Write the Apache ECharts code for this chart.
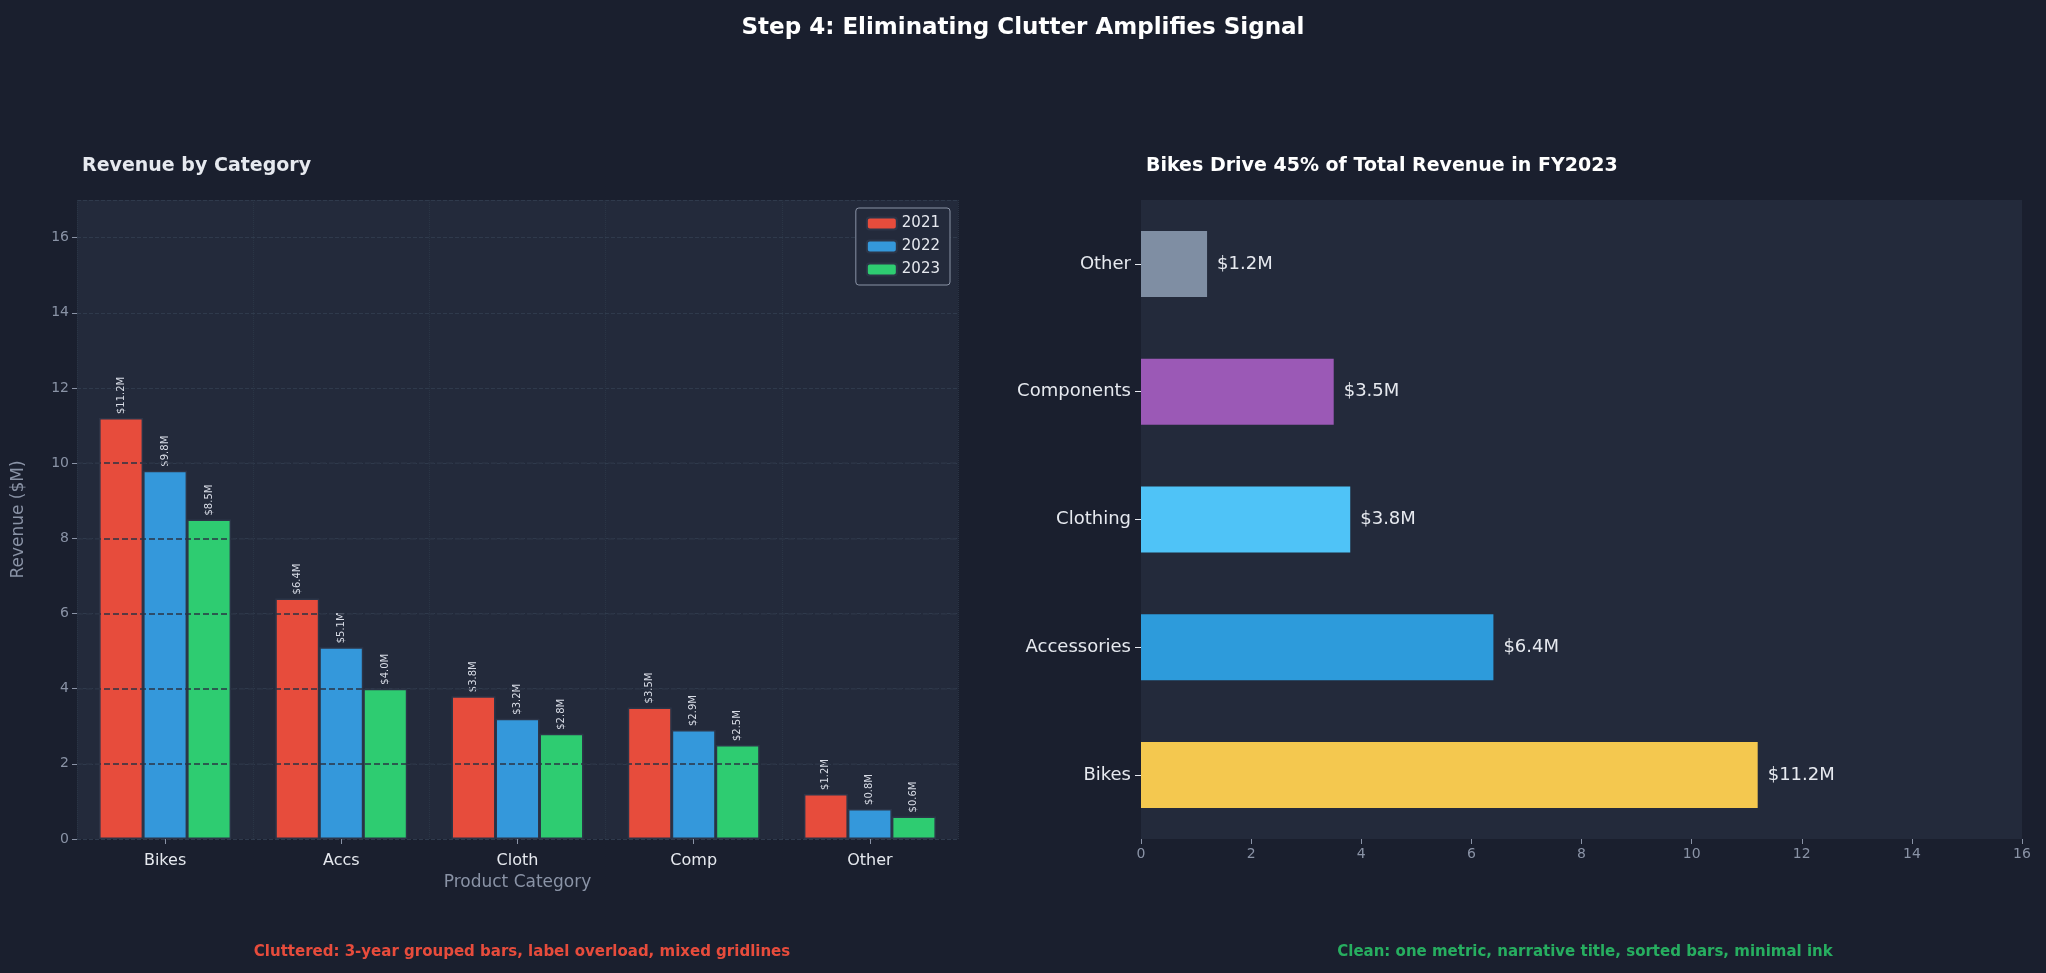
<!DOCTYPE html>
<html>
<head>
<meta charset="utf-8">
<script src="https://cdn.jsdelivr.net/npm/echarts@6/dist/echarts.min.js"></script>
<style>
  html, body { margin: 0; padding: 0; background: #1a1f2e; }
  #main { width: 2046px; height: 973px; }
</style>
</head>
<body>
<div id="main"></div>
<script>
// data
const shortCats = ['Bikes', 'Accs', 'Cloth', 'Comp', 'Other'];
const years = ['2021', '2022', '2023'];
const rev2021 = [11.2, 6.4, 3.8, 3.5, 1.2];
const rev2022 = [9.8, 5.1, 3.2, 2.9, 0.8];
const rev2023 = [8.5, 4.0, 2.8, 2.5, 0.6];
const cleanCats = ['Bikes', 'Accessories', 'Clothing', 'Components', 'Other'];
const cleanVals = [11.2, 6.4, 3.8, 3.5, 1.2];
const cleanColors = ['#f4c84f', '#2d9bdb', '#4fc3f7', '#9b59b6', '#7f8ea3'];
const gridTicks = [2, 4, 6, 8, 10, 12, 14, 16];

const yearColors = ['#e74c3c', '#3498db', '#2ecc71'];
const yearData = [rev2021, rev2022, rev2023];
const font = 'DejaVu Sans';

let chart = echarts.init(document.getElementById('main'));

let leftSeries = years.map((y, i) => ({
  name: y,
  type: 'bar',
  xAxisIndex: 0,
  yAxisIndex: 0,
  data: yearData[i],
  barWidth: 44,
  barGap: '0%',
  barCategoryGap: '20%',
  itemStyle: { color: yearColors[i], borderColor: '#2c3548', borderWidth: 1.5 },
  label: {
    show: true,
    position: 'top',
    rotate: 90,
    align: 'left',
    verticalAlign: 'middle',
    distance: 4,
    color: '#d8dce6',
    fontSize: 10,
    fontFamily: font,
    formatter: p => '$' + p.value.toFixed(1) + 'M'
  },
  animation: false
}));
// dark dashed gridlines drawn over the bars
leftSeries[0].markLine = {
  silent: true,
  symbol: 'none',
  label: { show: false },
  lineStyle: { color: '#2b3344', type: 'dashed', width: 1.5 },
  data: gridTicks.slice(0, 5).map(v => ({ yAxis: v })),
  z: 10
};
leftSeries[0].z = 2;

let option = {
  backgroundColor: '#1a1f2e',
  animation: false,
  title: [{
    text: 'Step 4: Eliminating Clutter Amplifies Signal',
    left: 'center', top: 12,
    textStyle: { color: '#ffffff', fontSize: 23, fontWeight: 'bold', fontFamily: font }
  }, {
    text: 'Revenue by Category',
    left: 77, top: 152,
    textStyle: { color: '#e6e9ef', fontSize: 19, fontWeight: 'bold', fontFamily: font }
  }, {
    text: 'Bikes Drive 45% of Total Revenue in FY2023',
    left: 1141, top: 152,
    textStyle: { color: '#ffffff', fontSize: 19, fontWeight: 'bold', fontFamily: font }
  }, {
    text: 'Cluttered: 3-year grouped bars, label overload, mixed gridlines',
    left: 517, top: 940, textAlign: 'center',
    textStyle: { color: '#e74c3c', fontSize: 15, fontWeight: 'bold', fontFamily: font }
  }, {
    text: 'Clean: one metric, narrative title, sorted bars, minimal ink',
    left: 1580, top: 940, textAlign: 'center',
    textStyle: { color: '#27ae60', fontSize: 15, fontWeight: 'bold', fontFamily: font }
  }],
  legend: {
    data: years,
    orient: 'vertical',
    right: 2046 - 950, top: 208,
    itemWidth: 30, itemHeight: 12,
    itemGap: 8,
    padding: [8, 10],
    backgroundColor: '#232a3b',
    borderColor: '#8a93a6', borderWidth: 1, borderRadius: 3,
    textStyle: { color: '#e6e9ef', fontSize: 15, fontFamily: font }
  },
  grid: [
    { left: 77, width: 881, top: 200, height: 639, backgroundColor: '#232a3b', show: true, borderWidth: 0 },
    { left: 1141, width: 881, top: 200, height: 639, backgroundColor: '#232a3b', show: true, borderWidth: 0 }
  ],
  xAxis: [{
    gridIndex: 0,
    type: 'category',
    data: shortCats,
    name: 'Product Category',
    nameLocation: 'middle',
    nameGap: 34,
    nameTextStyle: { color: '#8a93a6', fontSize: 17, fontFamily: font },
    axisLine: { show: false },
    axisTick: { show: true, alignWithLabel: true, lineStyle: { color: '#8a93a6' } },
    axisLabel: { color: '#e6e9ef', fontSize: 16, fontFamily: font, margin: 14 },
    splitLine: { show: true, interval: 0, lineStyle: { color: '#2a3545', type: 'dotted' } }
  }, {
    gridIndex: 1,
    type: 'value',
    min: 0, max: 16, interval: 2,
    axisLine: { show: false },
    axisTick: { show: true, lineStyle: { color: '#8a93a6' } },
    axisLabel: { color: '#8a93a6', fontSize: 14, fontFamily: font },
    splitLine: { show: false }
  }],
  yAxis: [{
    gridIndex: 0,
    type: 'value',
    min: 0, max: 17, interval: 2,
    name: 'Revenue ($M)',
    nameLocation: 'middle',
    nameGap: 50,
    nameTextStyle: { color: '#8a93a6', fontSize: 17, fontFamily: font },
    axisLine: { show: false },
    axisTick: { show: true, lineStyle: { color: '#8a93a6' } },
    axisLabel: { color: '#8a93a6', fontSize: 14, fontFamily: font, showMaxLabel: false },
    splitLine: { show: true, lineStyle: { color: '#2f3a4c', type: 'dashed' } }
  }, {
    gridIndex: 1,
    type: 'category',
    data: cleanCats,
    axisLine: { show: false },
    axisTick: { show: true, alignWithLabel: true, length: 6, lineStyle: { color: '#e6e9ef' } },
    axisLabel: { color: '#e6e9ef', fontSize: 18, fontFamily: font, margin: 10 },
    splitLine: { show: false }
  }],
  series: leftSeries.concat([{
    type: 'bar',
    xAxisIndex: 1,
    yAxisIndex: 1,
    data: cleanVals.map((v, i) => ({ value: v, itemStyle: { color: cleanColors[i] } })),
    barWidth: 66,
    label: {
      show: true,
      position: 'right',
      distance: 10,
      color: '#e6e9ef',
      fontSize: 18,
      fontFamily: font,
      formatter: p => '$' + p.value.toFixed(1) + 'M'
    }
  }])
};

chart.setOption(option);
</script>
</body>
</html>
